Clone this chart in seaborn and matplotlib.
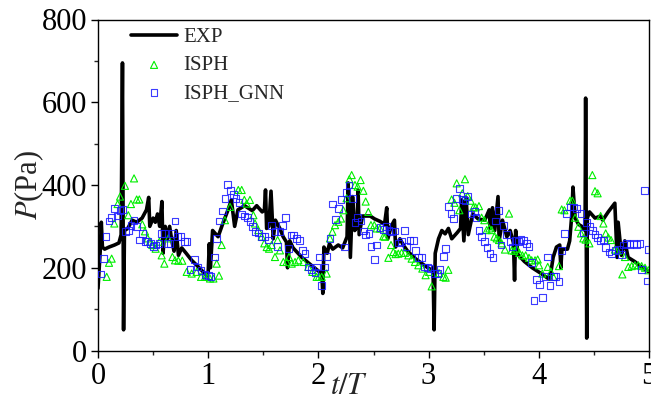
import matplotlib
matplotlib.use("Agg")
import matplotlib.pyplot as plt
from matplotlib.ticker import MultipleLocator
import seaborn as sns

exp_t = [0.00, 0.02, 0.03, 0.04, 0.06, 0.10, 0.15, 0.19, 0.21, 0.222, 0.232, 0.24,
         0.27, 0.31, 0.35, 0.40, 0.44, 0.46, 0.47, 0.50, 0.52, 0.54, 0.56, 0.58,
         0.59, 0.61, 0.63, 0.65, 0.67, 0.69, 0.71, 0.73, 0.76, 0.80, 0.85, 0.90,
         0.94, 0.99,
         1.00, 1.01, 1.02, 1.04, 1.09, 1.13, 1.18, 1.21, 1.24, 1.27, 1.33, 1.40,
         1.44, 1.49, 1.51, 1.52, 1.53, 1.55, 1.57, 1.59, 1.61, 1.65, 1.68, 1.71,
         1.72, 1.74, 1.77, 1.85, 1.94, 2.01,
         2.03, 2.04, 2.05, 2.08, 2.10, 2.13, 2.18, 2.22, 2.26, 2.27, 2.29, 2.31,
         2.33, 2.35, 2.36, 2.37, 2.40, 2.47, 2.51, 2.56, 2.60, 2.62, 2.63, 2.66,
         2.69, 2.70, 2.74, 2.77, 2.81, 2.88, 2.94, 3.02,
         3.04, 3.05, 3.06, 3.09, 3.12, 3.15, 3.18, 3.21, 3.26, 3.29, 3.30, 3.32,
         3.34, 3.36, 3.38, 3.40, 3.45, 3.51, 3.55, 3.56, 3.58, 3.60, 3.63, 3.64,
         3.67, 3.71, 3.74, 3.77, 3.78, 3.79, 3.81, 3.87, 3.94, 4.01, 4.08, 4.10,
         4.13, 4.16, 4.19, 4.20, 4.21, 4.26, 4.28, 4.30, 4.31, 4.33, 4.36, 4.39,
         4.42, 4.425, 4.435, 4.44, 4.46, 4.51, 4.56, 4.58, 4.63, 4.69, 4.71, 4.72,
         4.75, 4.78, 4.81, 4.87, 4.94, 5.00]
exp_p = [150, 240, 310, 250, 245, 250, 255, 260, 280, 695, 50, 290,
         295, 315, 310, 320, 340, 370, 300, 320, 310, 330, 300, 360,
         235, 300, 270, 300, 265, 240, 290, 230, 248, 235, 218, 205,
         194, 180,
         190, 258, 200, 290, 275, 305, 340, 364, 300, 340, 350, 338,
         350, 335, 340, 388, 295, 300, 385, 270, 315, 295, 275, 262,
         200, 265, 248, 225, 205, 190,
         190, 138, 250, 235, 258, 245, 255, 248, 275, 405, 225, 372,
         290, 300, 388, 280, 325, 325, 318, 312, 305, 345, 270, 300,
         315, 250, 270, 255, 240, 222, 210, 195,
         200, 50, 235, 270, 290, 282, 295, 270, 285, 295, 364, 265,
         370, 280, 305, 330, 318, 315, 340, 295, 345, 290, 372, 265,
         315, 275, 290, 260, 170, 290, 232, 215, 200, 188, 175, 172,
         225, 250, 255, 200, 245, 245, 265, 330, 395, 320, 305, 300,
         290, 610, 30, 320, 335, 320, 325, 315, 335, 356, 225, 310,
         230, 265, 225, 215, 200, 190]

# ISPH results
isph_t = [0.079, 0.100, 0.124, 0.148, 0.178, 0.200, 0.245, 0.275, 0.299, 0.327,
          0.351, 0.375, 0.402, 0.426, 0.451, 0.472, 0.493, 0.523, 0.557, 0.578,
          0.602, 0.638, 0.675, 0.699, 0.729, 0.765, 0.805, 0.850, 0.895, 0.935,
          0.971,
          0.986, 1.016, 1.047, 1.077, 1.098, 1.122, 1.152, 1.198, 1.273, 1.304,
          1.328, 1.349, 1.379, 1.410, 1.425, 1.455, 1.486, 1.509, 1.531, 1.552,
          1.576, 1.606, 1.630, 1.651, 1.682, 1.712, 1.733, 1.758, 1.788, 1.818,
          1.863, 1.908, 1.945, 1.984, 2.005,
          2.030, 2.075, 2.105, 2.127, 2.151, 2.181, 2.205, 2.226, 2.256, 2.281,
          2.302, 2.332, 2.356, 2.383, 2.408, 2.429, 2.453, 2.477, 2.507, 2.529,
          2.559, 2.589, 2.604, 2.635, 2.659, 2.680, 2.701, 2.725, 2.755, 2.786,
          2.816, 2.846, 2.876, 2.907, 2.943, 2.973, 3.004, 3.028,
          3.095, 3.134, 3.155, 3.179, 3.209, 3.234, 3.255, 3.279, 3.306, 3.330,
          3.355, 3.382, 3.406, 3.427, 3.457, 3.481, 3.506, 3.527, 3.551, 3.572,
          3.597, 3.618, 3.639, 3.663, 3.693, 3.730, 3.754, 3.778, 3.799, 3.823,
          3.851, 3.881, 3.911, 3.935, 3.966, 3.990, 4.002,
          4.032, 4.081, 4.111, 4.132, 4.183, 4.208, 4.232, 4.283, 4.304, 4.329,
          4.359, 4.383, 4.404, 4.425, 4.459, 4.486, 4.510, 4.534, 4.561, 4.586,
          4.607, 4.631, 4.655, 4.691, 4.716, 4.758, 4.782, 4.812, 4.843, 4.873,
          4.903, 4.933, 4.964, 4.994]
isph_p = [178, 212, 222, 307, 354, 372, 398, 327, 354, 416,
          365, 365, 305, 288, 271, 263, 255, 246, 263, 230,
          210, 271, 226, 218, 217, 217, 190, 186, 190, 178,
          178,
          178, 174, 174, 210, 181, 255, 315, 347, 388, 388,
          364, 355, 364, 327, 307, 291, 275, 259, 250, 246,
          255, 226, 267, 242, 214, 214, 226, 210, 214, 218,
          214, 202, 190, 178, 178,
          178, 186, 271, 287, 303, 311, 319, 339, 368, 414,
          424, 400, 396, 412, 386, 360, 335, 303, 303, 295,
          295, 276, 275, 224, 255, 238, 233, 234, 236, 236,
          230, 222, 214, 206, 198, 182, 190, 155,
          187, 178, 176, 195, 365, 357, 404, 339, 380, 414,
          373, 362, 346, 346, 349, 321, 315, 291, 295, 291,
          275, 271, 267, 259, 244, 331, 242, 241, 246, 236,
          230, 230, 224, 218, 218, 220, 206,
          186, 202, 190, 178, 204, 341, 339, 362, 362, 321,
          299, 283, 271, 268, 259, 424, 385, 380, 325, 307,
          283, 273, 267, 244, 241, 184, 226, 202, 204, 206,
          206, 204, 200, 194]

# ISPH_GNN results
gnn_t = [0.027, 0.048, 0.073, 0.100, 0.124, 0.148, 0.175, 0.200, 0.227, 0.251,
         0.275, 0.299, 0.327, 0.351, 0.375, 0.402, 0.426, 0.451, 0.478, 0.502,
         0.526, 0.553, 0.578, 0.602, 0.632, 0.653, 0.678, 0.699, 0.723, 0.753,
         0.783, 0.808, 0.835, 0.874, 0.904, 0.935, 0.971, 1.001,
         1.025, 1.056, 1.077, 1.098, 1.128, 1.152, 1.177, 1.204, 1.228, 1.252,
         1.279, 1.304, 1.328, 1.355, 1.379, 1.403, 1.425, 1.455, 1.486, 1.515,
         1.546, 1.576, 1.606, 1.627, 1.651, 1.676, 1.703, 1.727, 1.751, 1.772,
         1.803, 1.827, 1.854, 1.878, 1.908, 1.939, 1.969, 1.984, 2.005,
         2.030, 2.054, 2.078, 2.105, 2.130, 2.157, 2.181, 2.205, 2.235, 2.256,
         2.278, 2.308, 2.332, 2.356, 2.387, 2.408, 2.429, 2.459, 2.477, 2.507,
         2.529, 2.559, 2.589, 2.620, 2.641, 2.665, 2.695, 2.725, 2.755, 2.779,
         2.801, 2.831, 2.861, 2.882, 2.907, 2.937, 2.961, 2.991,
         3.013, 3.052, 3.082, 3.103, 3.134, 3.155, 3.179, 3.203, 3.228, 3.255,
         3.279, 3.306, 3.330, 3.355, 3.385, 3.415, 3.430, 3.457, 3.481, 3.506,
         3.530, 3.557, 3.585, 3.609, 3.633, 3.657, 3.681, 3.705, 3.739, 3.760,
         3.790, 3.814, 3.838, 3.862, 3.890, 3.911, 3.935, 3.956, 3.980, 4.005,
         4.032, 4.056, 4.081, 4.102, 4.132, 4.153, 4.183, 4.208, 4.232, 4.253,
         4.283, 4.313, 4.344, 4.383, 4.404, 4.434, 4.465, 4.486, 4.510, 4.534,
         4.558, 4.586, 4.607, 4.637, 4.661, 4.691, 4.722, 4.752, 4.767, 4.797,
         4.828, 4.858, 4.888, 4.918, 4.933, 4.958, 4.988, 4.998]
gnn_p = [185, 222, 276, 313, 321, 343, 325, 339, 341, 288,
         291, 303, 315, 299, 267, 283, 263, 263, 259, 252,
         255, 259, 283, 283, 259, 259, 283, 313, 276, 276,
         263, 263, 196, 220, 202, 194, 184, 182,
         179, 226, 271, 313, 337, 368, 402, 386, 378, 368,
         357, 330, 325, 321, 311, 299, 287, 284, 275, 276,
         267, 303, 287, 252, 287, 303, 321, 246, 279, 279,
         271, 265, 241, 234, 202, 196, 188, 202, 226,
         158, 202, 228, 271, 354, 317, 343, 364, 250, 381,
         400, 368, 309, 321, 313, 289, 279, 283, 252, 220,
         255, 297, 292, 299, 291, 287, 289, 260, 263, 291,
         252, 265, 265, 242, 224, 224, 202, 200,
         198, 187, 187, 195, 228, 246, 349, 332, 319, 368,
         392, 364, 362, 373, 330, 335, 321, 291, 276, 263,
         249, 234, 224, 313, 339, 255, 303, 281, 263, 250,
         265, 263, 268, 265, 259, 252, 212, 121, 171, 160,
         129, 178, 226, 158, 179, 179, 166, 241, 283, 332,
         347, 347, 343, 332, 284, 309, 299, 291, 281, 273,
         265, 267, 249, 238, 234, 241, 244, 232, 255, 259,
         257, 259, 257, 259, 196, 386, 168, 244]

sns.set_style("ticks")
plt.rcParams["font.family"] = ["Liberation Serif", "DejaVu Serif"]
plt.rcParams["mathtext.fontset"] = "stix"

fig = plt.figure(figsize=(6.51, 4.01), dpi=100)
ax = fig.add_axes([98 / 651, 50.5 / 401, 551 / 651, 331 / 401])

sns.lineplot(x=exp_t, y=exp_p, sort=False, estimator=None, color="black",
             linewidth=2.6, label="EXP", ax=ax, zorder=2)
sns.scatterplot(x=isph_t, y=isph_p, marker="^", s=26, fc="none", ec="#00ee00",
                linewidth=0.8, label="ISPH", ax=ax, zorder=3)
sns.scatterplot(x=gnn_t, y=gnn_p, marker="s", s=24, fc="none", ec="#1a1aff",
                linewidth=0.8, alpha=0.85, label="ISPH_GNN", ax=ax, zorder=4)

ax.set_xlim(0, 5)
ax.set_ylim(0, 800)
ax.xaxis.set_major_locator(MultipleLocator(1))
ax.xaxis.set_minor_locator(MultipleLocator(0.5))
ax.yaxis.set_major_locator(MultipleLocator(200))
ax.yaxis.set_minor_locator(MultipleLocator(100))
ax.tick_params(which="major", direction="out", length=5, width=1, labelsize=22,
               colors="black", pad=3)
ax.tick_params(which="minor", direction="out", length=3, width=1)
for sp in ax.spines.values():
    sp.set_visible(True)
    sp.set_linewidth(1)
    sp.set_color("black")

ax.set_xlabel("$t/T$", fontsize=22)
ax.xaxis.set_label_coords(0.455, -0.065)
ax.set_ylabel("$P$(Pa)", fontsize=22)
ax.yaxis.set_label_coords(-0.095, 0.5)

ax.legend(loc="upper left", bbox_to_anchor=(0.045, 1.0), frameon=False,
          fontsize=15, handlelength=2.2, handletextpad=0.3, labelspacing=0.4,
          borderaxespad=0, scatterpoints=1)

fig.savefig("out.png", dpi=100)
